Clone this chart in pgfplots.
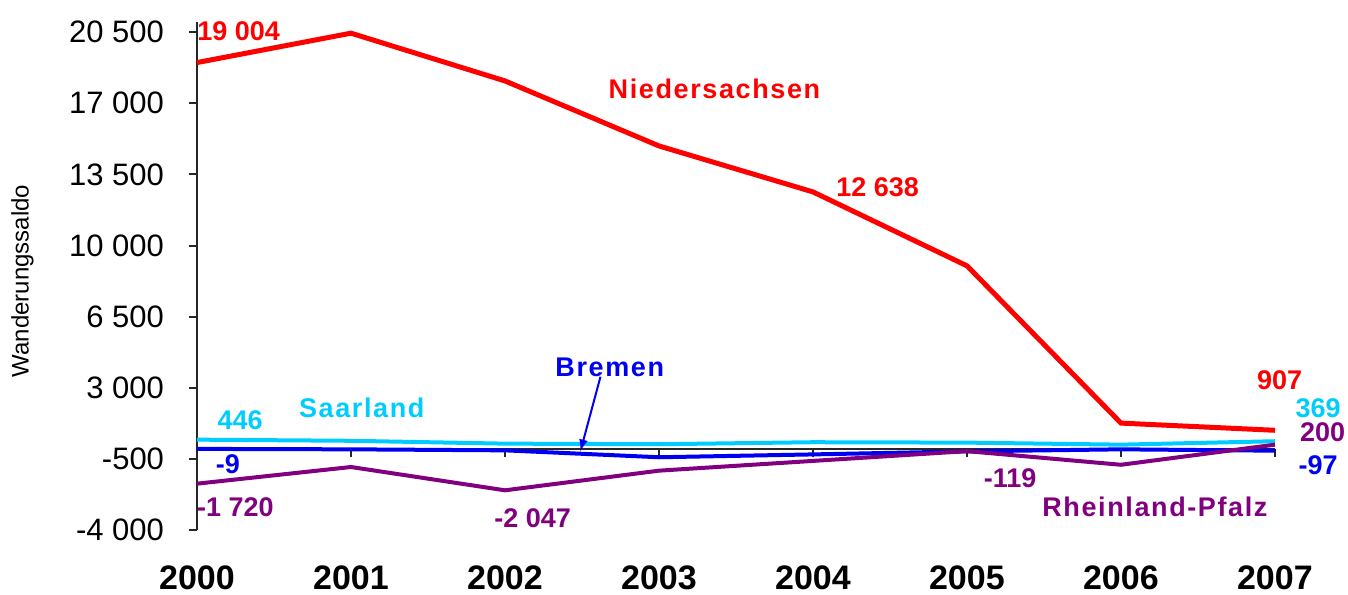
\documentclass[border=0pt]{standalone}
\usepackage{fontspec}
\setmainfont{Liberation Sans}
\usepackage{pgfplots}
\pgfplotsset{compat=1.18}
\definecolor{nds}{RGB}{255,0,0}
\definecolor{saar}{RGB}{0,204,255}
\definecolor{brem}{RGB}{0,0,240}
\definecolor{rlp}{RGB}{128,0,128}
\newcommand{\wide}{\addfontfeature{LetterSpace=6}}
\begin{document}
\begin{tikzpicture}
\useasboundingbox (-98.5pt,-32pt) rectangle (575.5pt,265pt);
\begin{axis}[
  scale only axis,
  width=539pt, height=254pt,
  xmin=2000, xmax=2007,
  ymin=-4000, ymax=21000,
  axis y line=left,
  axis x line=middle,
  hide obscured x ticks=false,
  axis line style={-, line width=1pt, black!85},
  tick align=outside,
  major tick length=4pt,
  tick style={line width=1pt, black!85},
  scaled y ticks=false,
  xtick={2000,...,2007},
  xticklabels={2000,2001,2002,2003,2004,2005,2006,2007},
  xticklabel style={font=\fontsize{17}{20}\selectfont\bfseries, yshift=-51pt},
  ytick={-4000,-500,3000,6500,10000,13500,17000,20500},
  yticklabels={-4 000,-500,3 000,6 500,10 000,13 500,17 000,20 500},
  yticklabel style={font=\fontsize{15.5}{18}\selectfont, xshift=-9pt},
  ylabel={Wanderungssaldo},
  ylabel style={at={(axis description cs:-0.162,0.49)}, anchor=center, rotate=0, font=\fontsize{12}{14}\selectfont},
  clip=false,
]
\addplot[color=saar, line width=2pt] coordinates {(2000,446) (2001,390) (2002,250) (2003,220) (2004,320) (2005,300) (2006,200) (2007,369)};
\addplot[color=brem, line width=2pt] coordinates {(2000,-9) (2001,-30) (2002,-80) (2003,-420) (2004,-280) (2005,-130) (2006,-30) (2007,-97)};
\addplot[color=rlp, line width=2pt] coordinates {(2000,-1720) (2001,-900) (2002,-2047) (2003,-1080) (2004,-600) (2005,-119) (2006,-790) (2007,200)};
\addplot[color=nds, line width=2.5pt] coordinates {(2000,19004) (2001,20450) (2002,18100) (2003,14900) (2004,12638) (2005,9000) (2006,1260) (2007,907)};

\begin{scope}[font=\fontsize{13.5}{15}\selectfont\bfseries, inner sep=1pt]
\node[nds, anchor=west, inner sep=0pt] at (axis cs:2000,20550) {19 004};
\node[nds] at (axis cs:2003.36,17690) {\wide Niedersachsen};
\node[nds] at (axis cs:2004.42,12864) {12 638};
\node[nds] at (axis cs:2007.03,3375) {907};
\node[saar] at (axis cs:2007.28,2000) {369};
\node[rlp] at (axis cs:2007.31,800) {200};
\node[brem] at (axis cs:2007.28,-807) {-97};
\node[saar] at (axis cs:2000.28,1407) {446};
\node[saar] at (axis cs:2001.07,1997) {\wide Saarland};
\node[brem] at (axis cs:2002.68,4010) {\wide Bremen};
\node[brem] at (axis cs:2000.2,-758) {-9};
\node[rlp] at (axis cs:2000.25,-2873) {-1 720};
\node[rlp] at (axis cs:2002.18,-3414) {-2 047};
\node[rlp] at (axis cs:2005.28,-1446) {-119};
\node[rlp] at (axis cs:2006.22,-2873) {\wide Rheinland-Pfalz};
\end{scope}
\draw[brem, line width=1pt, -{latex}] (axis cs:2002.62,3543) -- (axis cs:2002.49,-118);
\end{axis}
\end{tikzpicture}
\end{document}
